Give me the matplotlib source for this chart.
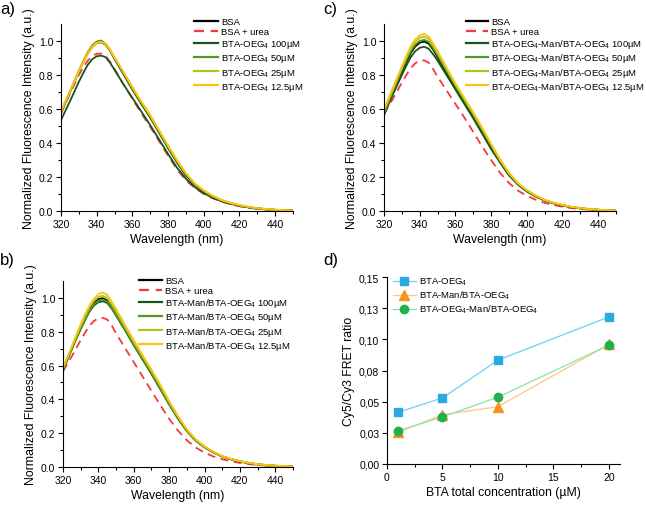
import matplotlib
matplotlib.use("Agg")
import matplotlib.pyplot as plt
from matplotlib.ticker import MultipleLocator, FixedLocator

plt.rcParams['font.family'] = ['Liberation Sans', 'DejaVu Sans']
plt.rcParams['mathtext.fontset'] = 'custom'
plt.rcParams['mathtext.rm'] = 'Liberation Sans'
plt.rcParams['mathtext.it'] = 'Liberation Sans:italic'
plt.rcParams['mathtext.default'] = 'regular'

# ---------------- data ----------------
wavelength = [320, 325, 330, 332.5, 335, 337.5, 340, 342.5, 345, 347.5, 350, 352.5, 355,
              360, 365, 370, 375, 380, 385, 390, 395, 400, 405, 410, 415, 420, 425, 430,
              435, 440, 445, 450]

# panel a
a_bsa = [0.575, 0.70, 0.82, 0.877, 0.928, 0.965, 0.988, 0.993, 0.978, 0.943, 0.895, 0.85, 0.805,
         0.715, 0.630, 0.550, 0.460, 0.370, 0.285, 0.210, 0.155, 0.115, 0.085, 0.062, 0.045,
         0.032, 0.022, 0.015, 0.010, 0.007, 0.004, 0.002]
a_urea = [0.575, 0.69, 0.80, 0.845, 0.885, 0.912, 0.925, 0.926, 0.912, 0.878, 0.835, 0.79, 0.745,
          0.660, 0.575, 0.495, 0.410, 0.325, 0.245, 0.180, 0.135, 0.100, 0.075, 0.055, 0.040,
          0.028, 0.019, 0.013, 0.009, 0.006, 0.003, 0.002]
a_100 = [0.535, 0.645, 0.76, 0.812, 0.86, 0.893, 0.910, 0.914, 0.905, 0.872, 0.83, 0.788, 0.745,
         0.665, 0.585, 0.505, 0.42, 0.335, 0.255, 0.19, 0.14, 0.105, 0.078, 0.057, 0.042,
         0.030, 0.021, 0.014, 0.010, 0.006, 0.004, 0.002]
a_50 = [0.58, 0.70, 0.825, 0.882, 0.935, 0.975, 0.997, 1.003, 0.985, 0.948, 0.90, 0.855, 0.81,
        0.72, 0.635, 0.555, 0.465, 0.375, 0.29, 0.215, 0.158, 0.118, 0.087, 0.063, 0.046,
        0.033, 0.023, 0.016, 0.011, 0.007, 0.004, 0.002]
a_25 = [0.585, 0.705, 0.825, 0.88, 0.93, 0.968, 0.99, 0.994, 0.98, 0.945, 0.90, 0.858, 0.815,
        0.725, 0.64, 0.56, 0.47, 0.38, 0.295, 0.22, 0.16, 0.12, 0.088, 0.064, 0.047,
        0.034, 0.024, 0.016, 0.011, 0.007, 0.004, 0.002]
a_12 = [0.585, 0.705, 0.82, 0.875, 0.925, 0.965, 0.988, 0.995, 0.985, 0.95, 0.905, 0.862, 0.82,
        0.73, 0.645, 0.565, 0.475, 0.385, 0.30, 0.222, 0.162, 0.12, 0.089, 0.065, 0.048,
        0.035, 0.025, 0.017, 0.012, 0.008, 0.005, 0.002]

# panel b
b_bsa = [0.57, 0.70, 0.825, 0.882, 0.935, 0.972, 0.993, 0.998, 0.985, 0.95, 0.905, 0.86, 0.815,
         0.725, 0.64, 0.555, 0.465, 0.375, 0.29, 0.215, 0.158, 0.118, 0.087, 0.063, 0.046,
         0.033, 0.023, 0.016, 0.011, 0.007, 0.004, 0.002]
b_urea = [0.565, 0.655, 0.75, 0.795, 0.835, 0.864, 0.879, 0.882, 0.872, 0.838, 0.79, 0.748, 0.705,
          0.62, 0.535, 0.45, 0.365, 0.285, 0.215, 0.158, 0.115, 0.085, 0.062, 0.046, 0.034,
          0.024, 0.017, 0.012, 0.008, 0.005, 0.003, 0.001]
b_100 = [0.575, 0.70, 0.815, 0.87, 0.92, 0.955, 0.975, 0.98, 0.97, 0.937, 0.895, 0.852, 0.81,
         0.72, 0.635, 0.55, 0.46, 0.37, 0.285, 0.212, 0.156, 0.116, 0.086, 0.062, 0.045,
         0.032, 0.022, 0.015, 0.010, 0.007, 0.004, 0.002]
b_50 = [0.575, 0.70, 0.82, 0.875, 0.925, 0.962, 0.984, 0.99, 0.978, 0.943, 0.90, 0.857, 0.815,
        0.725, 0.64, 0.555, 0.465, 0.375, 0.29, 0.215, 0.158, 0.118, 0.087, 0.063, 0.046,
        0.033, 0.023, 0.016, 0.011, 0.007, 0.004, 0.002]
b_25 = [0.58, 0.71, 0.835, 0.893, 0.945, 0.983, 1.006, 1.013, 1.0, 0.962, 0.92, 0.875, 0.83,
        0.74, 0.655, 0.57, 0.48, 0.385, 0.298, 0.22, 0.162, 0.12, 0.089, 0.064, 0.047,
        0.034, 0.024, 0.016, 0.011, 0.008, 0.005, 0.002]
b_12 = [0.59, 0.715, 0.845, 0.903, 0.955, 0.995, 1.022, 1.032, 1.018, 0.978, 0.935, 0.888, 0.84,
        0.75, 0.66, 0.575, 0.485, 0.39, 0.30, 0.223, 0.164, 0.122, 0.09, 0.065, 0.048,
        0.035, 0.025, 0.017, 0.012, 0.008, 0.005, 0.002]

# panel c
c_bsa = [0.57, 0.70, 0.82, 0.878, 0.93, 0.968, 0.99, 0.997, 0.985, 0.95, 0.905, 0.86, 0.815,
         0.725, 0.64, 0.555, 0.465, 0.375, 0.29, 0.215, 0.158, 0.118, 0.087, 0.063, 0.046,
         0.033, 0.023, 0.016, 0.011, 0.007, 0.004, 0.002]
c_urea = [0.57, 0.66, 0.755, 0.80, 0.84, 0.869, 0.884, 0.886, 0.873, 0.835, 0.79, 0.75, 0.71,
          0.63, 0.55, 0.465, 0.38, 0.30, 0.225, 0.165, 0.12, 0.09, 0.066, 0.048, 0.035,
          0.025, 0.017, 0.012, 0.008, 0.005, 0.003, 0.001]
c_100 = [0.565, 0.685, 0.80, 0.855, 0.905, 0.94, 0.96, 0.966, 0.955, 0.922, 0.885, 0.842, 0.80,
         0.715, 0.63, 0.545, 0.455, 0.365, 0.285, 0.21, 0.155, 0.115, 0.085, 0.062, 0.045,
         0.032, 0.022, 0.015, 0.010, 0.007, 0.004, 0.002]
c_50 = [0.575, 0.705, 0.83, 0.888, 0.94, 0.978, 1.0, 1.007, 0.995, 0.958, 0.915, 0.87, 0.825,
        0.735, 0.65, 0.565, 0.475, 0.385, 0.295, 0.22, 0.16, 0.12, 0.089, 0.064, 0.047,
        0.034, 0.024, 0.016, 0.011, 0.007, 0.004, 0.002]
c_25 = [0.59, 0.715, 0.84, 0.90, 0.955, 0.995, 1.018, 1.026, 1.012, 0.973, 0.93, 0.882, 0.835,
        0.745, 0.66, 0.575, 0.485, 0.39, 0.30, 0.222, 0.163, 0.122, 0.09, 0.065, 0.048,
        0.035, 0.024, 0.017, 0.012, 0.008, 0.005, 0.002]
c_12 = [0.60, 0.725, 0.85, 0.912, 0.97, 1.01, 1.033, 1.042, 1.027, 0.985, 0.94, 0.892, 0.845,
        0.75, 0.665, 0.58, 0.49, 0.395, 0.305, 0.225, 0.165, 0.124, 0.092, 0.066, 0.049,
        0.036, 0.025, 0.017, 0.012, 0.008, 0.005, 0.002]

a_labels = ['BSA', 'BSA + urea', 'BTA-OEG$_4$ 100µM', 'BTA-OEG$_4$ 50µM',
            'BTA-OEG$_4$ 25µM', 'BTA-OEG$_4$ 12.5µM']
b_labels = ['BSA', 'BSA + urea', 'BTA-Man/BTA-OEG$_4$ 100µM', 'BTA-Man/BTA-OEG$_4$ 50µM',
            'BTA-Man/BTA-OEG$_4$ 25µM', 'BTA-Man/BTA-OEG$_4$ 12.5µM']
c_labels = ['BSA', 'BSA + urea', 'BTA-OEG$_4$-Man/BTA-OEG$_4$ 100µM', 'BTA-OEG$_4$-Man/BTA-OEG$_4$ 50µM',
            'BTA-OEG$_4$-Man/BTA-OEG$_4$ 25µM', 'BTA-OEG$_4$-Man/BTA-OEG$_4$ 12.5µM']

# panel d
conc = [1, 5, 10, 20]
fret_oeg = [0.0415, 0.053, 0.0833, 0.118]
fret_man = [0.0254, 0.0396, 0.046, 0.0959]
fret_oegman = [0.0265, 0.0378, 0.0536, 0.0954]
d_labels = ['BTA-OEG$_4$', 'BTA-Man/BTA-OEG$_4$', 'BTA-OEG$_4$-Man/BTA-OEG$_4$']
d_yticks = [0.0, 0.025, 0.05, 0.075, 0.10, 0.125, 0.15]
d_yticklabels = ['0,00', '0,03', '0,05', '0,08', '0,10', '0,13', '0,15']

# ---------------- style ----------------
spec_colors = ['#000000', '#f5393b', '#16561a', '#4f9a1e', '#b3c41c', '#ffc20e']
spec_styles = ['-', (0, (4.5, 3)), '-', '-', '-', '-']
TICK = 7.5
LAB = 8.8
LEG = 6.8

fig = plt.figure(figsize=(6.46, 5.06), dpi=100)
W, H = 646.0, 506.0


def ax_at(l, r, b, t):
    return fig.add_axes([l / W, 1 - b / H, (r - l) / W, (b - t) / H])


def style_axes(ax):
    for s in ['top', 'right']:
        ax.spines[s].set_visible(False)
    for s in ['left', 'bottom']:
        ax.spines[s].set_linewidth(0.8)
    ax.tick_params(which='major', direction='out', length=3.5, width=0.8, labelsize=TICK, pad=2)
    ax.tick_params(which='minor', direction='out', length=2, width=0.8)


def spectrum_panel(ax, series, labels, leg_xy, handlelen):
    for y, c, ls, lab in zip(series, spec_colors, spec_styles, labels):
        ax.plot(wavelength, y, color=c, linestyle=ls, lw=1.3, label=lab)
    ax.set_xlim(320, 450)
    ax.set_ylim(0, 1.1)
    ax.set_xticks([320, 340, 360, 380, 400, 420, 440])
    ax.xaxis.set_minor_locator(MultipleLocator(10))
    ax.yaxis.set_major_locator(FixedLocator([0, 0.2, 0.4, 0.6, 0.8, 1.0]))
    ax.yaxis.set_minor_locator(FixedLocator([0.1, 0.3, 0.5, 0.7, 0.9]))
    ax.set_xlabel('Wavelength (nm)', fontsize=LAB, labelpad=3)
    ax.set_ylabel('Normalized Fluorescence Intensity (a.u.)', fontsize=LAB, labelpad=3)
    style_axes(ax)
    leg = ax.legend(loc='upper left', bbox_to_anchor=(leg_xy[0] / W, 1 - leg_xy[1] / H),
                    bbox_transform=fig.transFigure, frameon=False, fontsize=LEG,
                    borderpad=0, borderaxespad=0, handlelength=handlelen, handletextpad=0.35,
                    labelspacing=0.12)
    for l in leg.get_lines():
        l.set_linewidth(1.6)


ax_a = ax_at(61, 293, 212, 25)
spectrum_panel(ax_a, [a_bsa, a_urea, a_100, a_50, a_25, a_12], a_labels, (194, 18), 2.5)

ax_c = ax_at(384, 616, 212, 25)
spectrum_panel(ax_c, [c_bsa, c_urea, c_100, c_50, c_25, c_12], c_labels, (466, 18), 2.3)

ax_b = ax_at(63, 293, 468, 282)
spectrum_panel(ax_b, [b_bsa, b_urea, b_100, b_50, b_25, b_12], b_labels, (139, 277), 2.4)

# panel d
ax_d = ax_at(387, 620, 465, 278)
ax_d.plot(conc, fret_oeg, color='#6fd0f2', lw=0.9, marker='s', ms=5.5,
          mfc='#29abe2', mec='#29abe2', label=d_labels[0])
ax_d.plot(conc, fret_man, color='#ffc48a', lw=0.9, marker='^', ms=6.5,
          mfc='#f7931e', mec='#f7931e', label=d_labels[1])
ax_d.plot(conc, fret_oegman, color='#8be0a8', lw=0.9, marker='o', ms=6,
          mfc='#1fb24a', mec='#1fb24a', label=d_labels[2])
ax_d.set_xlim(0, 21)
ax_d.set_ylim(0, 0.15)
ax_d.set_xticks([0, 5, 10, 15, 20])
ax_d.xaxis.set_minor_locator(MultipleLocator(2.5))
ax_d.set_yticks(d_yticks)
ax_d.set_yticklabels(d_yticklabels)
ax_d.set_xlabel('BTA total concentration (µM)', fontsize=LAB, labelpad=3)
ax_d.set_ylabel('Cy5/Cy3 FRET ratio', fontsize=LAB, labelpad=3)
style_axes(ax_d)
ax_d.legend(loc='upper left', bbox_to_anchor=(393 / W, 1 - 276 / H), bbox_transform=fig.transFigure,
            frameon=False, fontsize=LEG, borderpad=0, borderaxespad=0, handlelength=2.4,
            handletextpad=0.35, labelspacing=0.15, numpoints=1)

# panel letters
for txt, x, y in [('a)', 0, 2), ('c)', 323, 2), ('b)', 0, 253), ('d)', 323, 253)]:
    fig.text(x / W, 1 - y / H, txt, fontsize=12, va='top', ha='left')

fig.savefig('out.png', dpi=100)
